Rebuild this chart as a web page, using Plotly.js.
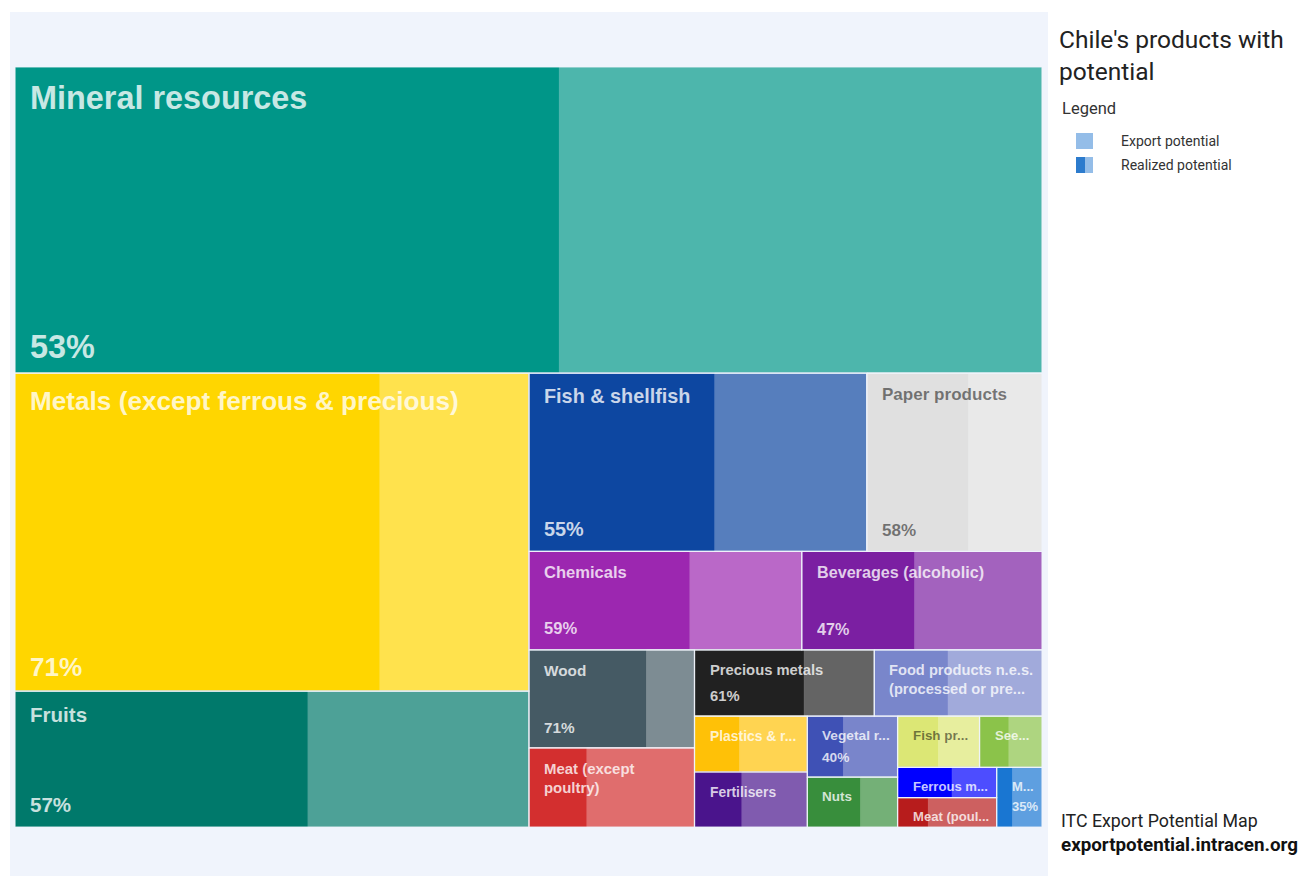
<!DOCTYPE html>
<html>
<head>
<meta charset="utf-8">
<script src="https://cdn.plot.ly/plotly-3.0.1.min.js"></script>
<style>html,body{margin:0;padding:0;background:#fff;}#chart{width:1301px;height:876px;}</style>
</head>
<body>
<div id="chart"></div>
<script>
// ---- data (export potential, US$ million; realized share in %) ----
const categories = [
  "Mineral resources", "Metals (except ferrous & precious)", "Fruits",
  "Fish & shellfish", "Paper products", "Chemicals", "Beverages (alcoholic)",
  "Wood", "Meat (except<br>poultry)", "Precious metals",
  "Food products n.e.s.<br>(processed or pre...", "Plastics & r...", "Fertilisers",
  "Vegetal r...", "Nuts", "Fish pr...", "See...", "Ferrous m...", "Meat (poul...", "M..."
];
const exportPotential = [15700, 8160, 3490, 3010, 1560, 1340, 1180, 810, 655, 595,
                         555, 315, 310, 275, 225, 210, 160, 150, 145, 135];
const realizedPct = [53, 71, 57, 55, 58, 59, 47, 71, 35, 61,
                     44, 40, 42, 40, 59, 50, 47, 55, 31, 35];
const colors = ["#009688", "#FFD600", "#00796B", "#0D47A1", "#E0E0E0", "#9C27B0", "#7B1FA2",
                "#455A64", "#D32F2F", "#212121", "#7986CB", "#FFC107", "#4A148C", "#3F51B5",
                "#388E3C", "#DCE775", "#8BC34A", "#0000FF", "#B71C1C", "#1976D2"];
const titleText = "Chile's products with<br>potential";
const legendItems = ["Export potential", "Realized potential"];

// ---- tiling structure (h = side by side, v = stacked) ----
const tiling = ['v', 0, ['h', ['v', 1, 2], ['v', ['h', 3, 4], ['h', 5, 6],
  ['h', ['v', 7, 8], ['v', ['h', 9, 10], ['h', ['v', 11, 12], ['v', 13, 14],
    ['v', ['h', 15, 16], ['h', ['v', 17, 18], 19]]]]]]]];

const W = 1301, H = 876;
const X0 = 15, X1 = 1042, Y0 = 67, Y1 = 827;
const PW = X1 - X0, PH = Y1 - Y0;

function sumOf(n) { return typeof n === 'number' ? exportPotential[n] : n.slice(1).reduce((s, k) => s + sumOf(k), 0); }
const rects = [];
function place(n, x0, y0, x1, y1) {
  if (typeof n === 'number') { rects[n] = {x0, y0, x1, y1}; return; }
  const dir = n[0], kids = n.slice(1), tot = sumOf(n);
  let pos = dir === 'h' ? x0 : y0;
  kids.forEach(k => {
    const f = sumOf(k) / tot;
    if (dir === 'h') { const nx = pos + (x1 - x0) * f; place(k, pos, y0, nx, y1); pos = nx; }
    else { const ny = pos + (y1 - y0) * f; place(k, x0, pos, x1, ny); pos = ny; }
  });
}
place(tiling, 0, 0, 1, 1);

function hexToRgb(h) { return [parseInt(h.slice(1, 3), 16), parseInt(h.slice(3, 5), 16), parseInt(h.slice(5, 7), 16)]; }
function lighten(h, t) { const c = hexToRgb(h).map(v => Math.round(v + (255 - v) * t)); return `rgb(${c[0]},${c[1]},${c[2]})`; }
function lum(h) { const c = hexToRgb(h).map(v => { v /= 255; return v <= 0.03928 ? v / 12.92 : Math.pow((v + 0.055) / 1.055, 2.4); }); return 0.2126 * c[0] + 0.7152 * c[1] + 0.0722 * c[2]; }

const traces = [];
const annotations = [];
const FONT = "'Liberation Sans', Arial, sans-serif";
const border = {x: [], y: []};
categories.forEach((name, i) => {
  const r = rects[i];
  const xs = r.x0 + (r.x1 - r.x0) * realizedPct[i] / 100;
  const box = (a, b, col) => ({
    type: 'scatter', mode: 'lines', x: [a, b, b, a, a], y: [r.y0, r.y0, r.y1, r.y1, r.y0],
    fill: 'toself', fillcolor: col, line: {width: 0.6, color: col}, hoverinfo: 'text',
    text: name.replace('<br>', ' ') + ': ' + realizedPct[i] + '%', showlegend: false
  });
  traces.push(box(r.x0, xs, colors[i]));
  traces.push(box(xs, r.x1, lighten(colors[i], 0.3)));
  border.x.push(r.x0, r.x1, r.x1, r.x0, r.x0, null);
  border.y.push(r.y0, r.y0, r.y1, r.y1, r.y0, null);

  const wpx = (r.x1 - r.x0) * PW, hpx = (r.y1 - r.y0) * PH;
  const s = Math.sqrt(wpx * hpx);
  const fs = Math.max(10 + 0.04 * s, 11.4 + 0.031 * s);
  const tcol = lum(colors[i]) > 0.715 ? 'rgba(0,0,0,0.5)' : 'rgba(255,255,255,0.78)';
  const lines = name.split('<br>');
  annotations.push({
    x: r.x0, y: r.y0, xref: 'x', yref: 'y', xanchor: 'left', yanchor: 'top', align: 'left',
    xshift: 13, yshift: -(9 + 0.06 * fs), showarrow: false,
    text: lines.map(t => '<b>' + t + '</b>').join('<br>'),
    font: {family: FONT, size: fs, color: tcol}
  });
  if (lines.length === 1 && 2 * 1.25 * fs + 24 <= hpx) {
    annotations.push({
      x: r.x0, y: r.y1, xref: 'x', yref: 'y', xanchor: 'left', yanchor: 'bottom', align: 'left',
      xshift: 13, yshift: 14 - 0.25 * fs, showarrow: false,
      text: '<b>' + realizedPct[i] + '%</b>',
      font: {family: FONT, size: fs, color: tcol}
    });
  }
});
traces.push({type: 'scatter', mode: 'lines', x: border.x, y: border.y, hoverinfo: 'skip',
  line: {width: 1.2, color: 'rgba(240,244,252,0.85)'}, showlegend: false});

const px = v => v / W, py = v => 1 - v / H;
const RF = "Roboto, 'Open Sans', sans-serif";
annotations.push(
  {x: px(1060), y: py(108), xref: 'paper', yref: 'paper', xanchor: 'left', yanchor: 'middle', showarrow: false,
   text: 'Legend', font: {family: RF, size: 16.5, color: '#333'}},
  {x: px(1119), y: py(141), xref: 'paper', yref: 'paper', xanchor: 'left', yanchor: 'middle', showarrow: false,
   text: legendItems[0], font: {family: RF, size: 14, color: '#333'}},
  {x: px(1119), y: py(165), xref: 'paper', yref: 'paper', xanchor: 'left', yanchor: 'middle', showarrow: false,
   text: legendItems[1], font: {family: RF, size: 14, color: '#333'}},
  {x: px(1059), y: py(820), xref: 'paper', yref: 'paper', xanchor: 'left', yanchor: 'middle', showarrow: false,
   text: 'ITC Export Potential Map', font: {family: RF, size: 17.8, color: '#222'}},
  {x: px(1059), y: py(845), xref: 'paper', yref: 'paper', xanchor: 'left', yanchor: 'middle', showarrow: false,
   text: '<b>exportpotential.intracen.org</b>', font: {family: RF, size: 18.8, color: '#111'}}
);

const shapes = [
  {type: 'rect', xref: 'paper', yref: 'paper', x0: px(10), x1: px(1048), y0: 0, y1: py(12),
   fillcolor: '#F0F4FC', line: {width: 0}, layer: 'below'},
  {type: 'rect', xref: 'paper', yref: 'paper', x0: px(1076), x1: px(1093), y0: py(149), y1: py(133),
   fillcolor: '#94BDE8', line: {width: 0}},
  {type: 'rect', xref: 'paper', yref: 'paper', x0: px(1076), x1: px(1085), y0: py(173), y1: py(157),
   fillcolor: '#2C7BCD', line: {width: 0}},
  {type: 'rect', xref: 'paper', yref: 'paper', x0: px(1085), x1: px(1093), y0: py(173), y1: py(157),
   fillcolor: '#94BDE8', line: {width: 0}}
];

const layout = {
  width: W, height: H, autosize: false,
  margin: {l: 0, r: 0, t: 0, b: 0, pad: 0},
  paper_bgcolor: '#ffffff', plot_bgcolor: 'rgba(0,0,0,0)',
  showlegend: false, hovermode: 'closest',
  title: {text: titleText, x: px(1059), xanchor: 'left', y: py(48), yanchor: 'top',
          font: {family: RF, size: 24.5, color: '#222'}},
  xaxis: {domain: [px(X0), px(X1)], range: [0, 1], visible: false, fixedrange: true},
  yaxis: {domain: [py(Y1), py(Y0)], range: [1, 0], visible: false, fixedrange: true},
  shapes: shapes, annotations: annotations
};
Plotly.newPlot('chart', traces, layout, {displayModeBar: false, responsive: false});
</script>
</body>
</html>
